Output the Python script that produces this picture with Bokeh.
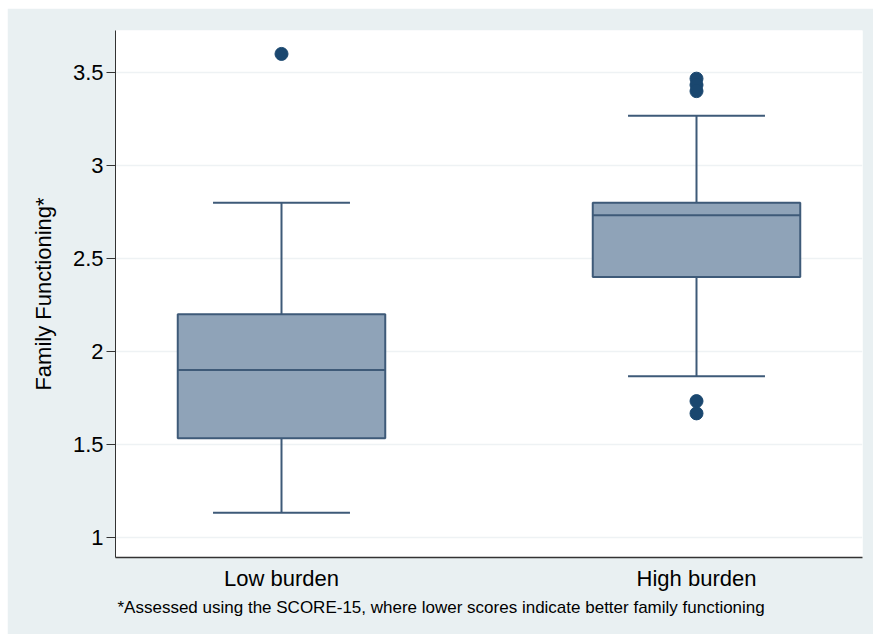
from bokeh.plotting import figure
from bokeh.models import ColumnDataSource, FactorRange, Range1d, FixedTicker, Title
from bokeh.transform import dodge
from bokeh.embed import file_html
from bokeh.resources import INLINE

categories = ["Low burden", "High burden"]
q1 = [1.533, 2.4]
median = [1.9, 2.733]
q3 = [2.2, 2.8]
lower_whisker = [1.133, 1.867]
upper_whisker = [2.8, 3.267]
outlier_cat = ["Low burden", "High burden", "High burden", "High burden", "High burden", "High burden"]
outlier_val = [3.6, 3.467, 3.433, 3.4, 1.733, 1.667]
y_ticks = [1, 1.5, 2, 2.5, 3, 3.5]
y_label = "Family Functioning*"
footnote = "*Assessed using the SCORE-15, where lower scores indicate better family functioning"

BG = "#e9f0f2"
LINE = "#3e5a78"
FILL = "#8fa3b8"
DOT = "#1a476f"
FONT = "Liberation Sans"

src = ColumnDataSource(dict(cat=categories, q1=q1, med=median, q3=q3,
                            lw=lower_whisker, uw=upper_whisker))
osrc = ColumnDataSource(dict(cat=outlier_cat, val=outlier_val))

xr = FactorRange(factors=categories, range_padding=-0.1, range_padding_units="absolute")
p = figure(width=866, height=626, x_range=xr, y_range=Range1d(0.892, 3.726),
           output_backend="svg", toolbar_location=None,
           min_border_left=108, min_border_right=11, min_border_top=22, min_border_bottom=77)
p.margin = (8, 0, 0, 7)
p.background_fill_color = "white"
p.border_fill_color = BG
p.outline_line_color = None

# whiskers
p.segment(x0="cat", y0="q3", x1="cat", y1="uw", source=src, line_color=LINE, line_width=2)
p.segment(x0="cat", y0="q1", x1="cat", y1="lw", source=src, line_color=LINE, line_width=2)
p.segment(x0=dodge("cat", -0.165, range=xr), y0="uw", x1=dodge("cat", 0.165, range=xr), y1="uw",
          source=src, line_color=LINE, line_width=2)
p.segment(x0=dodge("cat", -0.165, range=xr), y0="lw", x1=dodge("cat", 0.165, range=xr), y1="lw",
          source=src, line_color=LINE, line_width=2)
# boxes
p.vbar(x="cat", width=0.5, bottom="q1", top="q3", source=src,
       fill_color=FILL, line_color=LINE, line_width=2)
p.segment(x0=dodge("cat", -0.25, range=xr), y0="med", x1=dodge("cat", 0.25, range=xr), y1="med",
          source=src, line_color=LINE, line_width=2)
# outliers
p.scatter(x="cat", y="val", source=osrc, size=13, fill_color=DOT, line_color=DOT)

# axes
p.yaxis.ticker = FixedTicker(ticks=y_ticks)
p.yaxis.axis_label = y_label
p.yaxis.axis_label_text_font = FONT
p.yaxis.axis_label_text_font_style = "normal"
p.yaxis.axis_label_text_font_size = "22px"
p.yaxis.axis_label_text_color = "black"
p.yaxis.axis_label_standoff = 14
p.yaxis.major_label_text_font = FONT
p.yaxis.major_label_text_font_size = "22px"
p.yaxis.major_label_text_color = "black"
p.yaxis.major_label_orientation = "horizontal"
p.yaxis.major_label_standoff = 3
p.yaxis.major_tick_out = 9
p.yaxis.major_tick_in = 0
p.yaxis.minor_tick_line_color = None
p.yaxis.axis_line_color = "#333333"
p.yaxis.major_tick_line_color = "#333333"

p.xaxis.major_label_text_font = FONT
p.xaxis.major_label_text_font_size = "22px"
p.xaxis.major_label_text_color = "black"
p.xaxis.major_tick_line_color = None
p.xaxis.major_tick_out = 0
p.xaxis.major_label_standoff = 8
p.xaxis.axis_line_color = "#333333"
p.xaxis.axis_line_width = 1.5

p.xgrid.grid_line_color = None
p.ygrid.grid_line_color = "#eef2f4"
p.ygrid.grid_line_width = 1.5
p.ygrid.ticker = FixedTicker(ticks=y_ticks)

p.add_layout(Title(text=footnote, align="left", text_font=FONT, text_font_size="17px",
                   text_font_style="normal", text_color="black", offset=2, standoff=4), "below")

open("out.html", "w").write(file_html(p, INLINE))
